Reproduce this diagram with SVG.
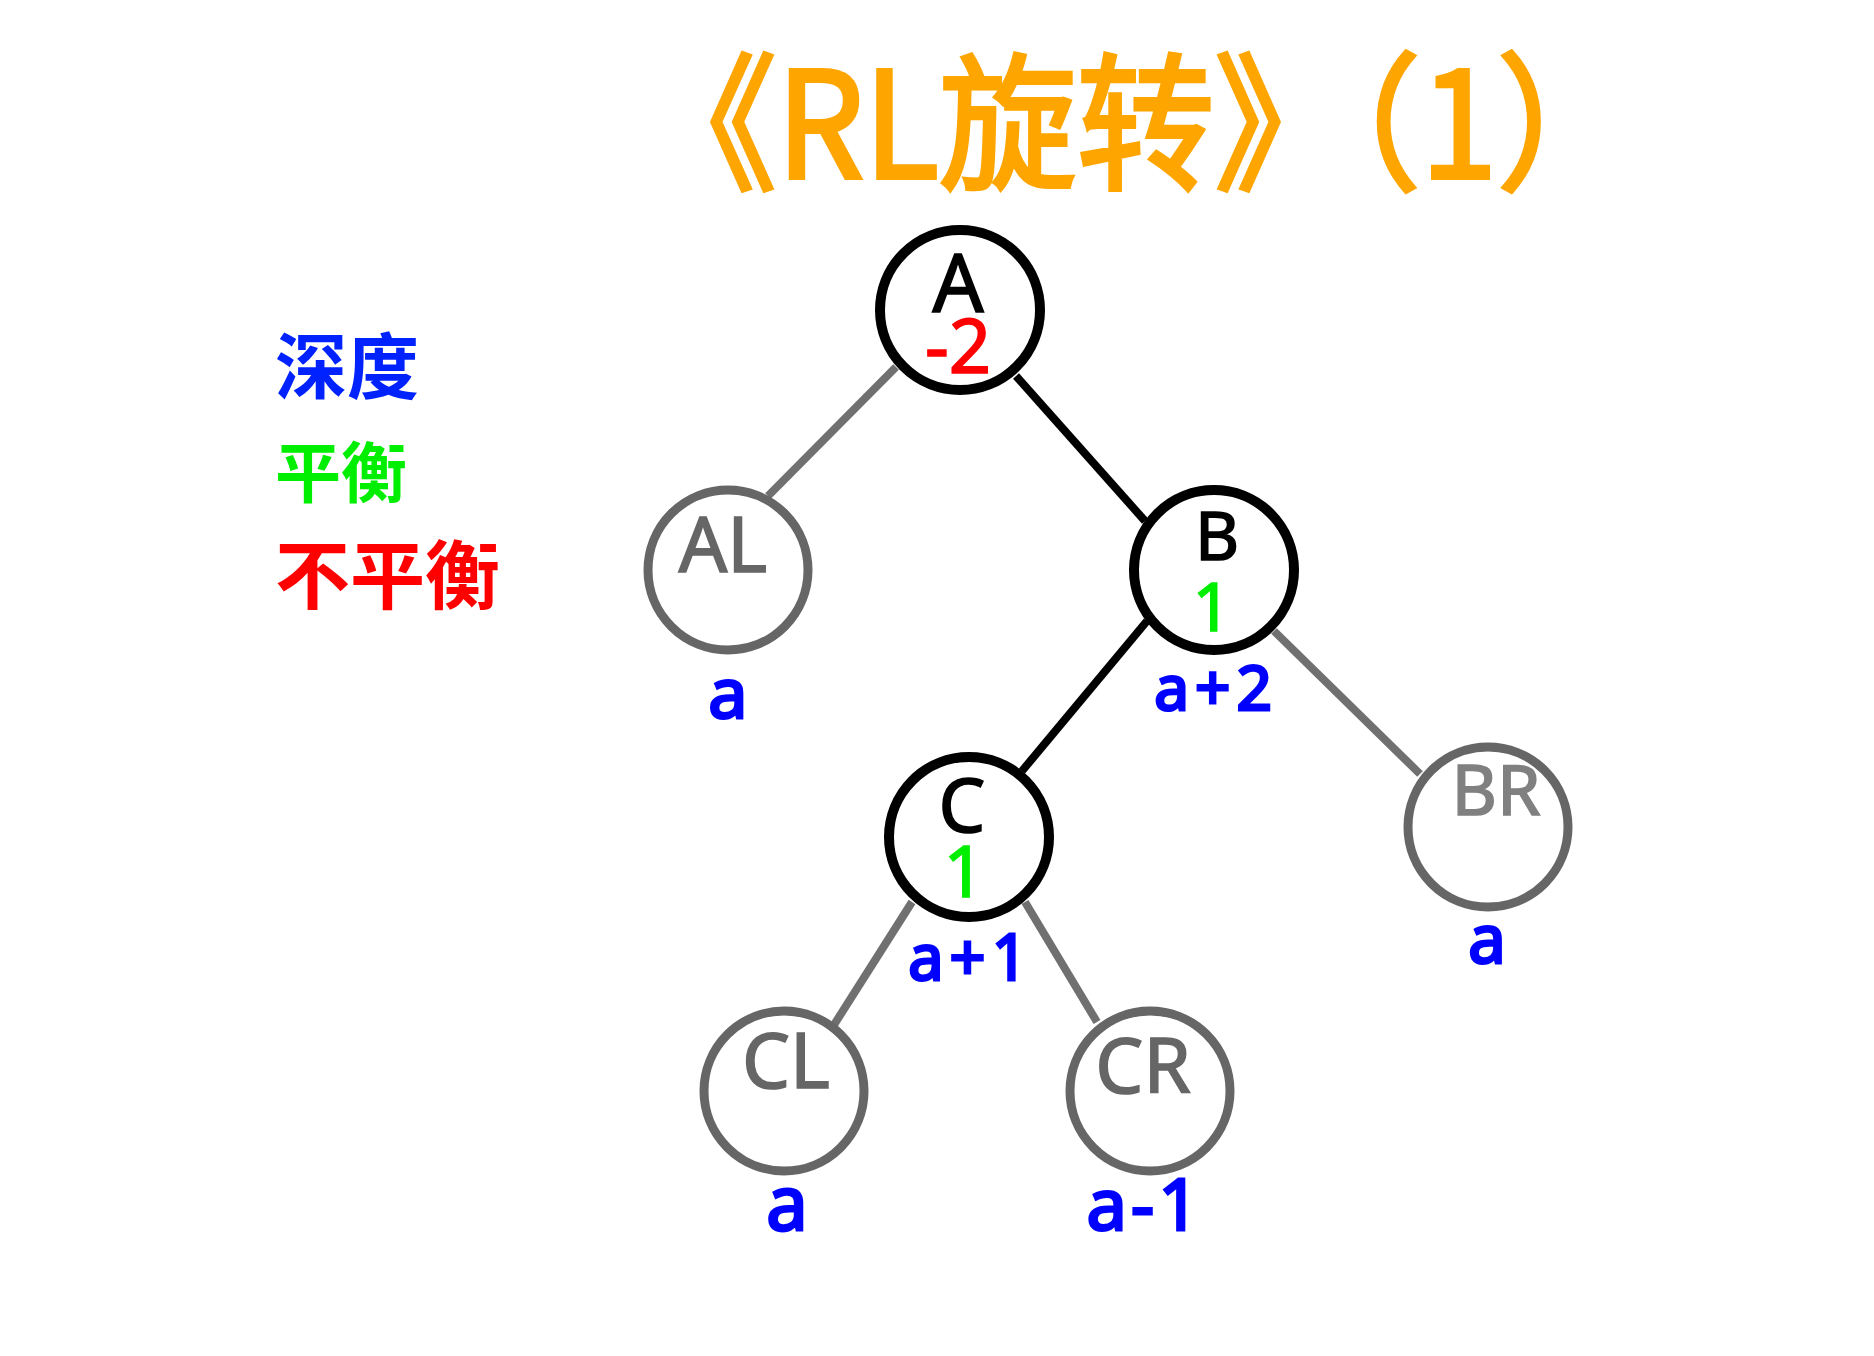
<svg xmlns="http://www.w3.org/2000/svg" width="1874" height="1356" viewBox="0 0 1874 1356">
<style>
.t{font-family:"Noto Sans","Noto Sans CJK SC",sans-serif;text-anchor:middle;stroke-width:1.6}
.cjk{font-family:"Noto Sans CJK SC",sans-serif;font-weight:bold}
.nb{fill:#fff;stroke:#000;stroke-width:10}
.ng{fill:#fff;stroke:#666;stroke-width:9}
.lb{stroke:#000;stroke-width:8;stroke-linecap:butt}
.lg{stroke:#707070;stroke-width:8;stroke-linecap:butt}
.d{fill:#0000ff;stroke:#0000ff;stroke-width:3}
.g{fill:#00ee00;stroke:#00ee00}
.k{fill:#000;stroke:#000}
.r{fill:#ff0000;stroke:#ff0000}
.m{fill:#666;stroke:#666}
.l{fill:#808080;stroke:#808080}
</style>
<rect width="1874" height="1356" fill="#fff"/>
<g id="title" transform="translate(1137 0) scale(0.93 1) translate(-1137 0)">
<text x="1137" y="178" font-family="Noto Sans CJK SC,sans-serif" font-size="148" fill="#FFA500" stroke="#FFA500" stroke-width="4" text-anchor="middle">《RL旋转》（1）</text>
</g>
<g id="legend">
<text class="cjk" x="275" y="393" font-size="72" fill="#0022ff">深度</text>
<text class="cjk" x="275" y="497" font-size="66" fill="#00ee00">平衡</text>
<text class="cjk" x="275" y="603" font-size="75" fill="#ff0000">不平衡</text>
</g>
<g id="connectors">
<line class="lg" x1="896" y1="367" x2="768" y2="496"/>
<line class="lb" x1="1016" y1="376" x2="1145" y2="521"/>
<line class="lb" x1="1147" y1="621" x2="1022" y2="771"/>
<line class="lg" x1="1274" y1="631" x2="1420" y2="774"/>
<line class="lg" x1="912" y1="902" x2="832" y2="1028"/>
<line class="lg" x1="1025" y1="902" x2="1097" y2="1022"/>
</g>
<g id="A">
<circle class="nb" cx="960" cy="310" r="80"/>
<text class="t k" x="958" y="312" font-size="80">A</text>
<text class="t r" x="958" y="373" font-size="74">-2</text>
</g>
<g id="AL">
<circle class="ng" cx="728" cy="570" r="80"/>
<text class="t m" x="723" y="572" font-size="76">AL</text>
<text class="t d" x="728" y="718" font-size="70">a</text>
</g>
<g id="B">
<circle class="nb" cx="1214" cy="570" r="80"/>
<text class="t k" x="1217" y="560" font-size="68">B</text>
<text class="t g" x="1212" y="631" font-size="68">1</text>
<text class="t d" x="1216" y="710" font-size="62" letter-spacing="6">a+2</text>
</g>
<g id="C">
<circle class="nb" cx="969" cy="837" r="80"/>
<text class="t k" x="962" y="832" font-size="74">C</text>
<text class="t g" x="964" y="897" font-size="72">1</text>
<text class="t d" x="971" y="980" font-size="63" letter-spacing="6">a+1</text>
</g>
<g id="BR">
<circle class="ng" cx="1488" cy="827" r="80"/>
<text class="t l" x="1496" y="815" font-size="70">BR</text>
<text class="t d" x="1487" y="963" font-size="67">a</text>
</g>
<g id="CL">
<circle class="ng" cx="784" cy="1091" r="80"/>
<text class="t m" x="786" y="1088" font-size="76">CL</text>
<text class="t d" x="787" y="1230" font-size="74">a</text>
</g>
<g id="CR">
<circle class="ng" cx="1150" cy="1091" r="80"/>
<text class="t m" x="1143" y="1093" font-size="76">CR</text>
<text class="t d" x="1145" y="1230" font-size="72" letter-spacing="4">a-1</text>
</g>
</svg>
